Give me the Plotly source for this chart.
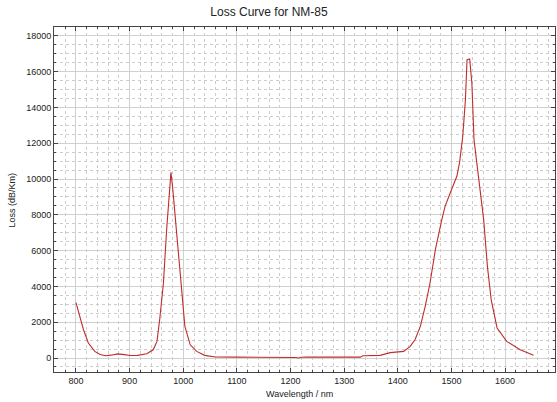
import plotly.graph_objects as go

wavelength = [800, 807, 814, 823, 835, 845, 855, 865, 878, 890, 901, 915, 932, 944, 951,
              956, 963, 969, 974, 977, 980, 985, 991, 997, 1003, 1013, 1025, 1040, 1060,
              1100, 1150, 1200, 1210, 1215, 1220, 1230, 1280, 1330, 1335, 1360, 1367,
              1386, 1400, 1411, 1423, 1432, 1442, 1451, 1460, 1470, 1482, 1488, 1500,
              1510, 1515, 1521, 1526, 1529, 1534, 1538, 1542, 1551, 1560, 1567, 1574,
              1585, 1603, 1628, 1653]
loss = [3100, 2320, 1580, 840, 370, 200, 130, 160, 230, 190, 145, 150, 240, 460, 930,
        2140, 4190, 7170, 9590, 10370, 9590, 7910, 5490, 3440, 1770, 740, 370, 150, 60,
        50, 50, 50, 30, 0, 40, 50, 50, 50, 130, 140, 150,
        300, 330, 370, 650, 1020, 1770, 2880, 4190, 6050, 7730, 8470, 9400,
        10150, 10900, 12380, 14430, 16660, 16700, 15360, 12200, 9960, 7730, 5120, 3260,
        1680, 930, 460, 150]

title_text = "Loss Curve for NM-85"
x_title = "Wavelength / nm"
y_title = "Loss (dB/Km)"

fig = go.Figure()
fig.add_trace(go.Scatter(x=wavelength, y=loss, mode="lines",
                         line=dict(color="#c02c2c", width=1.1), showlegend=False))

font_family = "Liberation Sans, Arial, sans-serif"
grid_major = "#d0d0d0"
grid_minor = "#cccccc"

fig.update_layout(
    width=557, height=402,
    margin=dict(l=54, r=2, t=27, b=30),
    paper_bgcolor="white", plot_bgcolor="white",
    font=dict(family=font_family, size=9, color="#222"),
    title=dict(text=title_text, x=0.483, xref="container", xanchor="center",
               y=0.97, yref="container", yanchor="middle",
               font=dict(size=12, color="#222", family=font_family)),
)

fig.update_xaxes(
    range=[759, 1693], dtick=100, tick0=800, tickformat="d",
    showline=True, linecolor="#444", linewidth=1, mirror="allticks",
    ticks="inside", ticklen=4, tickcolor="#444",
    showgrid=True, gridcolor=grid_major, gridwidth=1,
    zeroline=False,
    minor=dict(dtick=20, tick0=800, ticks="inside", ticklen=2, tickcolor="#444",
               showgrid=True, gridcolor=grid_minor, griddash="3px,3px", gridwidth=1),
    tickfont=dict(size=9),
)
fig.update_yaxes(
    range=[-780, 18490], dtick=2000, tick0=0, tickformat="d",
    showline=True, linecolor="#444", linewidth=1, mirror="allticks",
    ticks="inside", ticklen=4, tickcolor="#444",
    showgrid=True, gridcolor=grid_major, gridwidth=1,
    zeroline=False,
    minor=dict(dtick=500, tick0=0, ticks="inside", ticklen=2, tickcolor="#444",
               showgrid=True, gridcolor=grid_minor, griddash="3px,3px", gridwidth=1),
    tickfont=dict(size=9),
)

fig.add_annotation(text=x_title, xref="paper", yref="paper", x=0.49, y=-0.064,
                   xanchor="center", yanchor="middle", showarrow=False,
                   font=dict(size=9, color="#222"))
fig.add_annotation(text=y_title, xref="paper", yref="paper", x=-0.084, y=0.5,
                   xanchor="center", yanchor="middle", showarrow=False, textangle=-90,
                   font=dict(size=9, color="#222"))

fig.write_html("out.html", config={"displayModeBar": False},
               post_script="document.body.style.margin='0';document.body.style.overflow='hidden';")
